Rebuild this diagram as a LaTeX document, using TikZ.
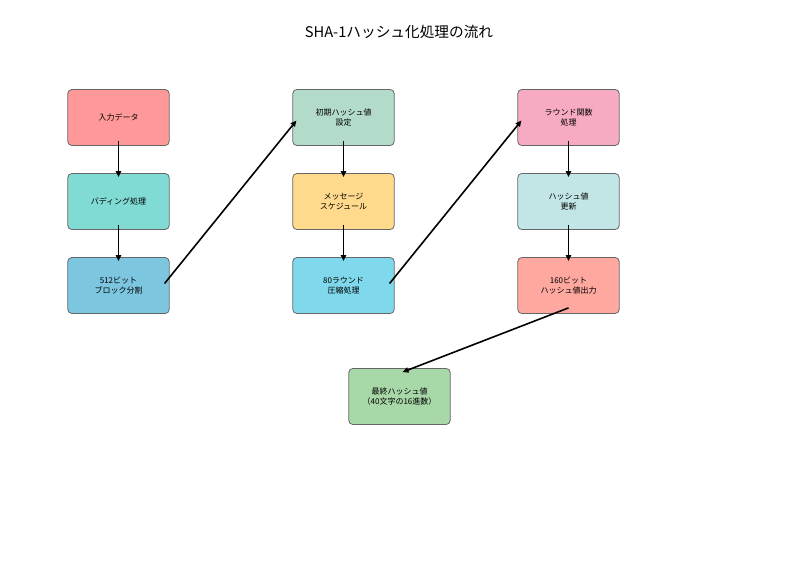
\documentclass[tikz,border=0pt]{standalone}
\usepackage{fontspec}
\setmainfont{Noto Sans CJK JP}
\usepackage{xcolor}
\usetikzlibrary{arrows.meta, calc}

\definecolor{cInput}{HTML}{FF9999}
\definecolor{cPad}{HTML}{7FDBD4}
\definecolor{cBlock}{HTML}{7CC7DF}
\definecolor{cInit}{HTML}{B3DBC9}
\definecolor{cSched}{HTML}{FFD98C}
\definecolor{cComp}{HTML}{7FD8EB}
\definecolor{cRound}{HTML}{F7ABC2}
\definecolor{cUpd}{HTML}{C2E6E6}
\definecolor{cOut}{HTML}{FFA8A0}
\definecolor{cFinal}{HTML}{A8D8A8}

\begin{document}
\begin{tikzpicture}[x=0.75pt, y=-0.75pt,
        box/.style={rectangle, rounded corners=3pt, draw=black!60, line width=0.6pt,
            minimum width=76pt, minimum height=42pt, inner sep=0pt, align=center,
            font=\fontsize{6}{7.2}\selectfont},
        flow/.style={-{Triangle[length=4.5pt, width=4pt]}, line width=1.2pt}]
        \useasboundingbox (0, 0) rectangle (800, 570);

        \node[font=\fontsize{11}{13}\selectfont] (title) at (399, 32) {SHA-1ハッシュ化処理の流れ};

        \node[box, fill=cInput] (input) at (118.5, 117.5) {入力データ};
        \node[box, fill=cPad] (pad) at (118.5, 201.5) {パディング処理};
        \node[box, fill=cBlock] (block) at (118.5, 285.5) {512ビット\\ブロック分割};

        \node[box, fill=cInit] (init) at (343.5, 117.5) {初期ハッシュ値\\設定};
        \node[box, fill=cSched] (sched) at (343.5, 201.5) {メッセージ\\スケジュール};
        \node[box, fill=cComp] (comp) at (343.5, 285.5) {80ラウンド\\圧縮処理};

        \node[box, fill=cRound] (round) at (568.5, 117.5) {ラウンド関数\\処理};
        \node[box, fill=cUpd] (upd) at (568.5, 201.5) {ハッシュ値\\更新};
        \node[box, fill=cOut] (out) at (568.5, 285.5) {160ビット\\ハッシュ値出力};

        \node[box, fill=cFinal] (final) at (399.5, 396.5) {最終ハッシュ値\\（40文字の16進数）};

        \draw[flow] ($(input.south)+(0,-5)$) -- ($(pad.north)+(0,4)$);
        \draw[flow] ($(pad.south)+(0,-5)$) -- ($(block.north)+(0,4)$);
        \draw[flow] ($(block.east)+(-5,-2)$) -- ($(init.west)+(4,3)$);
        \draw[flow] ($(init.south)+(0,-5)$) -- ($(sched.north)+(0,4)$);
        \draw[flow] ($(sched.south)+(0,-5)$) -- ($(comp.north)+(0,4)$);
        \draw[flow] ($(comp.east)+(-5,-2)$) -- ($(round.west)+(4,3)$);
        \draw[flow] ($(round.south)+(0,-5)$) -- ($(upd.north)+(0,4)$);
        \draw[flow] ($(upd.south)+(0,-5)$) -- ($(out.north)+(0,4)$);
        \draw[flow] ($(out.south)+(0,-6)$) -- ($(final.north)+(3,4)$);
    \end{tikzpicture}
\end{document}
